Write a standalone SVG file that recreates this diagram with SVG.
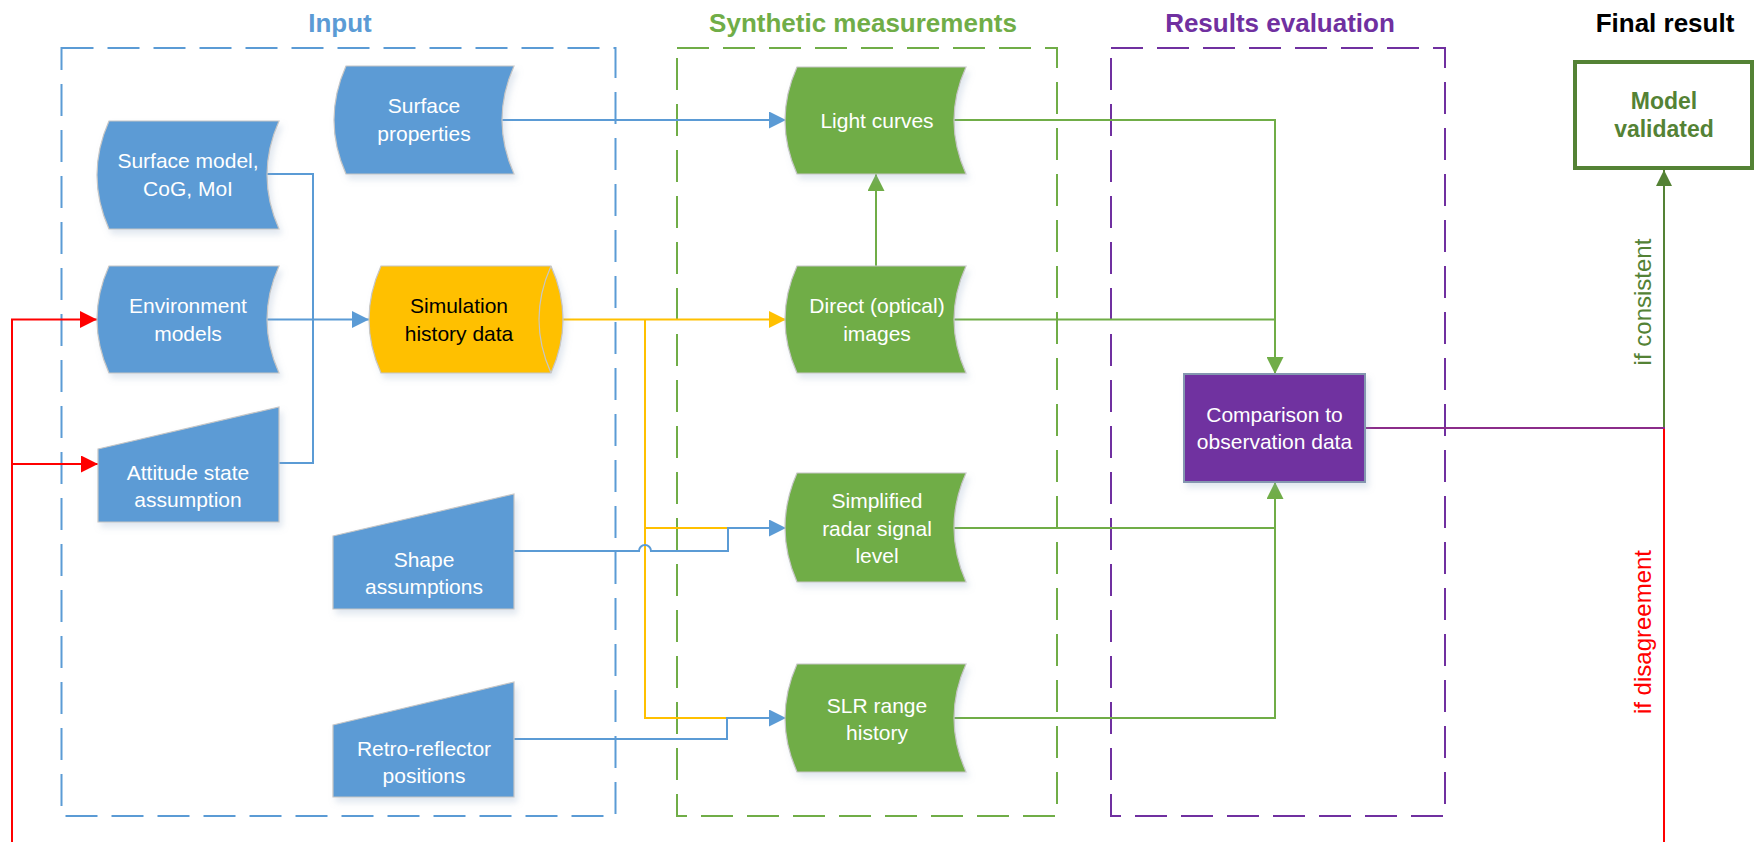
<svg xmlns="http://www.w3.org/2000/svg" width="1760" height="842" viewBox="0 0 1760 842">
  <defs>
    <style>
      text { font-family: "Liberation Sans", Arial, sans-serif; }
      .title { font-size: 26px; font-weight: bold; text-anchor: middle; }
      .lbl { font-size: 21px; text-anchor: middle; fill: #ffffff; }
      .dark { fill: #000000; }
      .blue { fill: #5b9bd5; }
      .green { fill: #70ad47; }
      .yellow { fill: #ffc000; }
      .purple { fill: #7030a0; }
      .node { stroke: #c6c6c6; stroke-width: 1.2; filter: url(#shadow); }
      .frame { fill: none; stroke-width: 2; stroke-dasharray: 32 14; }
      .con { fill: none; stroke-width: 2; }
      .side { font-size: 24px; text-anchor: middle; }
    </style>
    <filter id="shadow" x="-10%" y="-10%" width="130%" height="140%">
      <feDropShadow dx="3" dy="5" stdDeviation="3" flood-color="#8aa0c0" flood-opacity="0.25"/>
    </filter>
    <marker id="arrBlue" markerUnits="userSpaceOnUse" markerWidth="17" markerHeight="17" refX="17" refY="8.5" orient="auto">
      <path d="M0,0 L17,8.5 L0,17 Z" fill="#5b9bd5"/>
    </marker>
    <marker id="arrYellow" markerUnits="userSpaceOnUse" markerWidth="17" markerHeight="17" refX="17" refY="8.5" orient="auto">
      <path d="M0,0 L17,8.5 L0,17 Z" fill="#ffc000"/>
    </marker>
    <marker id="arrGreen" markerUnits="userSpaceOnUse" markerWidth="17" markerHeight="17" refX="17" refY="8.5" orient="auto">
      <path d="M0,0 L17,8.5 L0,17 Z" fill="#70ad47"/>
    </marker>
    <marker id="arrDarkGreen" markerUnits="userSpaceOnUse" markerWidth="17" markerHeight="17" refX="16" refY="8" orient="auto">
      <path d="M0,0 L16,8 L0,16 Z" fill="#548235"/>
    </marker>
    <marker id="arrRed" markerUnits="userSpaceOnUse" markerWidth="17" markerHeight="17" refX="17" refY="8.5" orient="auto">
      <path d="M0,0 L17,8.5 L0,17 Z" fill="#ff0000"/>
    </marker>
  </defs>

  <rect width="1760" height="842" fill="#ffffff"/>

  <!-- stage frames and headings -->
  <g id="stages">
    <rect class="frame" x="61.5" y="48" width="554" height="768" stroke="#5b9bd5"/>
    <rect class="frame" x="677" y="48" width="380" height="768" stroke="#70ad47"/>
    <rect class="frame" x="1111" y="48" width="334" height="768" stroke="#7030a0"/>
    <text class="title" x="340" y="32" fill="#5b9bd5">Input</text>
    <text class="title" x="863" y="32" fill="#70ad47">Synthetic measurements</text>
    <text class="title" x="1280" y="32" fill="#7030a0">Results evaluation</text>
    <text class="title" x="1665" y="32" fill="#000000">Final result</text>
  </g>

  <!-- connectors -->
  <g id="connectors">
    <!-- inputs merging into the simulation -->
    <path class="con" stroke="#5b9bd5" d="M267,174 H313 V319.5"/>
    <path class="con" stroke="#5b9bd5" d="M279,463 H313 V319.5"/>
    <path class="con" stroke="#5b9bd5" d="M267,319.5 H369" marker-end="url(#arrBlue)"/>
    <!-- simulation outputs -->
    <path class="con" stroke="#ffc000" d="M563,319.5 H786" marker-end="url(#arrYellow)"/>
    <path class="con" stroke="#ffc000" d="M645,319.5 V718 H727"/>
    <path class="con" stroke="#ffc000" d="M645,528 H728"/>
    <!-- surface, shape and reflector inputs -->
    <path class="con" stroke="#5b9bd5" d="M502,120 H786" marker-end="url(#arrBlue)"/>
    <path class="con" stroke="#5b9bd5" d="M514,551 H639 A6,6 0 0 1 651,551 H728 V528 H786" marker-end="url(#arrBlue)"/>
    <path class="con" stroke="#5b9bd5" d="M514,739 H727 V718 H786" marker-end="url(#arrBlue)"/>
    <!-- synthetic measurements into comparison -->
    <path class="con" stroke="#70ad47" d="M876,266 V174" marker-end="url(#arrGreen)"/>
    <path class="con" stroke="#70ad47" d="M953,120 H1275 V374" marker-end="url(#arrGreen)"/>
    <path class="con" stroke="#70ad47" d="M953,319.5 H1275"/>
    <path class="con" stroke="#70ad47" d="M953,528 H1275"/>
    <path class="con" stroke="#70ad47" d="M953,718 H1275 V482" marker-end="url(#arrGreen)"/>
    <!-- decision -->
    <path class="con" stroke="#ff0000" d="M1664,428 V846"/>
    <path class="con" stroke="#548235" d="M1664,428 V170" marker-end="url(#arrDarkGreen)"/>
    <path class="con" stroke="#8b2c8a" d="M1365,428 H1665"/>
    <!-- feedback loop -->
    <path class="con" stroke="#ff0000" d="M12,846 V319.5 H97" marker-end="url(#arrRed)"/>
    <path class="con" stroke="#ff0000" d="M12,464 H98" marker-end="url(#arrRed)"/>
    <text class="side" fill="#548235" transform="rotate(-90 1651 302)" x="1651" y="302">if consistent</text>
    <text class="side" fill="#ff0000" transform="rotate(-90 1651 632)" x="1651" y="632">if disagreement</text>
  </g>

  <!-- input nodes -->
  <g id="surface-model">
    <path class="node blue" d="M109,121 H279 Q255,175 279,229 H109 Q85,175 109,121 Z"/>
    <text class="lbl" x="188" y="168">Surface model,</text>
    <text class="lbl" x="188" y="196">CoG, MoI</text>
  </g>
  <g id="environment-models">
    <path class="node blue" d="M109,266 H279 Q255,319.5 279,373 H109 Q85,319.5 109,266 Z"/>
    <text class="lbl" x="188" y="313">Environment</text>
    <text class="lbl" x="188" y="341">models</text>
  </g>
  <g id="attitude-state">
    <path class="node blue" d="M98,449 L279,407 V522 H98 Z"/>
    <text class="lbl" x="188" y="480">Attitude state</text>
    <text class="lbl" x="188" y="507">assumption</text>
  </g>
  <g id="surface-properties">
    <path class="node blue" d="M346,66 H514 Q490,120 514,174 H346 Q322,120 346,66 Z"/>
    <text class="lbl" x="424" y="113">Surface</text>
    <text class="lbl" x="424" y="141">properties</text>
  </g>
  <g id="simulation-history">
    <path class="node yellow" d="M381,266 H551 Q575,319.5 551,373 H381 Q357,319.5 381,266 Z"/>
    <path d="M551,266 Q527,319.5 551,373" fill="none" stroke="#c6c6c6" stroke-width="1.2"/>
    <text class="lbl dark" x="459" y="313">Simulation</text>
    <text class="lbl dark" x="459" y="341">history data</text>
  </g>
  <g id="shape-assumptions">
    <path class="node blue" d="M333,536 L514,494 V609 H333 Z"/>
    <text class="lbl" x="424" y="567">Shape</text>
    <text class="lbl" x="424" y="594">assumptions</text>
  </g>
  <g id="retro-reflector">
    <path class="node blue" d="M333,725 L514,682 V797 H333 Z"/>
    <text class="lbl" x="424" y="756">Retro-reflector</text>
    <text class="lbl" x="424" y="783">positions</text>
  </g>

  <!-- synthetic measurement nodes -->
  <g id="light-curves">
    <path class="node green" d="M797,67 H966 Q942,120.5 966,174 H797 Q773,120.5 797,67 Z"/>
    <text class="lbl" x="877" y="128">Light curves</text>
  </g>
  <g id="direct-images">
    <path class="node green" d="M797,266 H966 Q942,319.5 966,373 H797 Q773,319.5 797,266 Z"/>
    <text class="lbl" x="877" y="313">Direct (optical)</text>
    <text class="lbl" x="877" y="341">images</text>
  </g>
  <g id="radar-signal">
    <path class="node green" d="M797,473 H966 Q942,527.5 966,582 H797 Q773,527.5 797,473 Z"/>
    <text class="lbl" x="877" y="508">Simplified</text>
    <text class="lbl" x="877" y="536">radar signal</text>
    <text class="lbl" x="877" y="563">level</text>
  </g>
  <g id="slr-range">
    <path class="node green" d="M797,664 H966 Q942,718 966,772 H797 Q773,718 797,664 Z"/>
    <text class="lbl" x="877" y="713">SLR range</text>
    <text class="lbl" x="877" y="740">history</text>
  </g>

  <!-- evaluation and result -->
  <g id="comparison">
    <rect class="purple" x="1184" y="374" width="181" height="108" stroke="#8497b0" stroke-width="2" filter="url(#shadow)"/>
    <text class="lbl" x="1274.5" y="422">Comparison to</text>
    <text class="lbl" x="1274.5" y="449">observation data</text>
  </g>
  <g id="model-validated">
    <rect x="1575" y="62" width="177" height="106" fill="#ffffff" stroke="#548235" stroke-width="4"/>
    <text x="1664" y="109" font-size="23" font-weight="bold" text-anchor="middle" fill="#548235">Model</text>
    <text x="1664" y="137" font-size="23" font-weight="bold" text-anchor="middle" fill="#548235">validated</text>
  </g>
</svg>
